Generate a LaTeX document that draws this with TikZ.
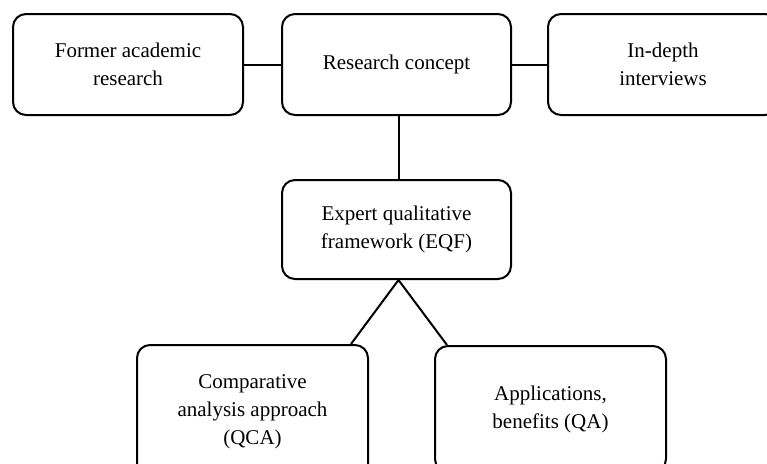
\documentclass[tikz,border=0pt]{standalone}
\usepackage{fontspec}
\setmainfont{Liberation Serif}
\begin{document}
\begin{tikzpicture}[x=1pt,y=-1pt,
  box/.style={draw=black, line width=2pt, rounded corners=13pt, fill=white,
    align=center, inner sep=0pt, font=\fontsize{21}{28}\selectfont},
  link/.style={draw=black, line width=2pt}]
\useasboundingbox (0,0) rectangle (767,463);
\clip (0,0) rectangle (767,463);
\fill[white] (0,0) rectangle (767,463);
\node[box, minimum width=230pt, minimum height=101pt] (b1) at (128,64.5) {Former academic\\research};
\node[box, minimum width=229pt, minimum height=101pt] (b2) at (396.5,64.5) {Research concept};
\node[box, minimum width=230pt, minimum height=101pt] (b3) at (663,64.5) {In-depth\\interviews};
\node[box, minimum width=229pt, minimum height=99pt] (b4) at (396.5,229.5) {Expert qualitative\\framework (EQF)};
\node[box, minimum width=231pt, minimum height=134pt] (b5) at (252.5,412) {Comparative\\analysis approach\\(QCA)};
\node[box, minimum width=231pt, minimum height=126pt] (b6) at (550.5,409) {Applications,\\benefits (QA)};
\coordinate (c2) at ([xshift=2.5pt]b2.south);
\coordinate (c4) at ([xshift=2.5pt]b4.north);
\coordinate (v4) at ([xshift=2pt]b4.south);
\coordinate (c5) at ([xshift=-18pt]b5.north east);
\coordinate (c6) at ([xshift=13pt]b6.north west);
\draw[link] (b1.east) -- (b2.west);
\draw[link] (b2.east) -- (b3.west);
\draw[link] (c2) -- (c4);
\draw[link] (c5) -- (v4) -- (c6);
\end{tikzpicture}
\end{document}
